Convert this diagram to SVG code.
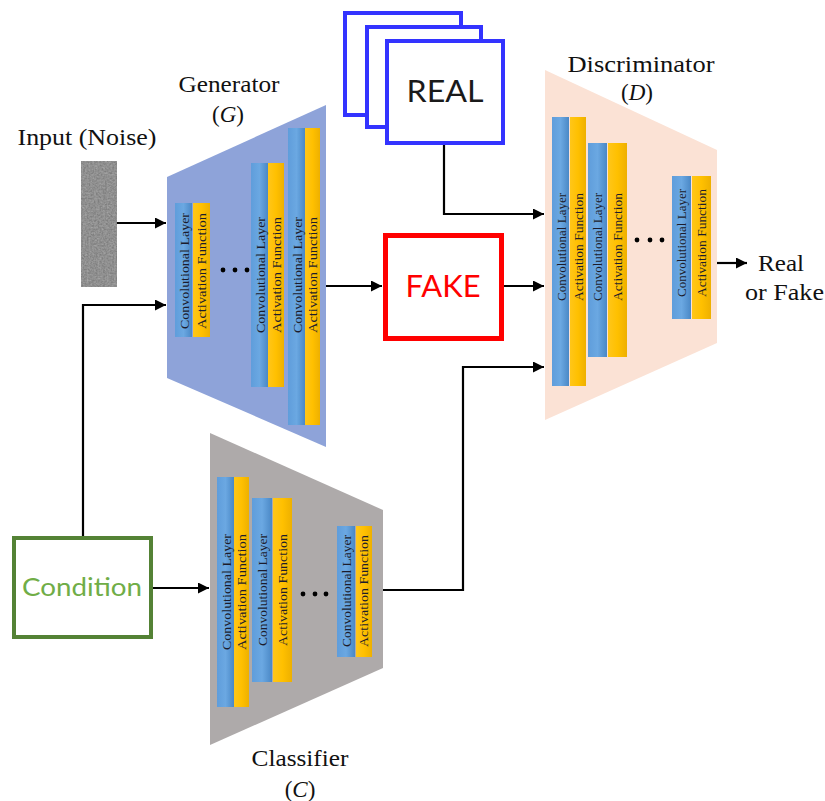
<svg xmlns="http://www.w3.org/2000/svg" width="825" height="801" viewBox="0 0 825 801">
  <style>
    .lbl { font-family: "Liberation Serif", "Times New Roman", serif; font-size: 23px; fill: #111; }
    .it { font-style: italic; }
    .bt { font-family: "Liberation Serif", "Times New Roman", serif; font-size: 13px; fill: #1c1c2c; text-anchor: middle; }
    .blue { fill: url(#gBlue); }
    .yel { fill: url(#gYel); }
    .conn { fill: none; stroke: #000; stroke-width: 2.2; }
    .dot { fill: #000; }
    .sans { font-family: Lato, "Liberation Sans", Arial, sans-serif; text-anchor: middle; }
  </style>
  <defs>
    <linearGradient id="gBlue" x1="0" y1="0" x2="1" y2="0">
      <stop offset="0" stop-color="#5f9ddb"/>
      <stop offset="0.5" stop-color="#6ba8e2"/>
      <stop offset="1" stop-color="#4a88c6"/>
    </linearGradient>
    <linearGradient id="gYel" x1="0" y1="0" x2="1" y2="0">
      <stop offset="0" stop-color="#ffc61a"/>
      <stop offset="0.5" stop-color="#ffc000"/>
      <stop offset="1" stop-color="#eeb000"/>
    </linearGradient>
    <filter id="grain" x="0" y="0" width="1" height="1">
      <feTurbulence type="fractalNoise" baseFrequency="0.55" numOctaves="2" seed="3" result="n"/>
      <feColorMatrix in="n" type="matrix" values="0 0 0 0 0.5  0 0 0 0 0.5  0 0 0 0 0.5  0.6 0.6 0 0 -0.35" result="m"/>
      <feComposite in="m" in2="SourceGraphic" operator="in" result="c"/>
      <feMerge><feMergeNode in="SourceGraphic"/><feMergeNode in="c"/></feMerge>
    </filter>
    <marker id="ah" viewBox="0 0 10 10" refX="10" refY="5" markerWidth="5" markerHeight="5" orient="auto" markerUnits="strokeWidth">
      <path d="M0,0 L10,5 L0,10 z" fill="#000"/>
    </marker>
  </defs>

  <rect width="825" height="801" fill="#fff"/>

  <!-- Input noise -->
  <g id="noise">
    <text class="lbl" x="87" y="145" text-anchor="middle" textLength="139" lengthAdjust="spacingAndGlyphs">Input (Noise)</text>
    <rect x="81" y="161" width="36" height="126" fill="#7d7d7d" filter="url(#grain)"/>
  </g>

  <!-- Generator -->
  <g id="generator">
    <polygon points="167,177 326,105 326,447 167,378" fill="#8ea3d9"/>
    <text class="lbl" x="229" y="92" text-anchor="middle" textLength="101" lengthAdjust="spacingAndGlyphs">Generator</text>
    <text class="lbl" x="228" y="122" text-anchor="middle">(<tspan class="it">G</tspan>)</text>
    <rect class="blue" x="175" y="203" width="17" height="134"/>
    <rect class="yel" x="193" y="203" width="17" height="134"/>
    <text class="bt" transform="translate(188.5,271) rotate(-90)" textLength="116" lengthAdjust="spacingAndGlyphs">Convolutional Layer</text>
    <text class="bt" transform="translate(206,271) rotate(-90)" textLength="116" lengthAdjust="spacingAndGlyphs">Activation Function</text>
    <circle class="dot" cx="223" cy="270" r="2.4"/>
    <circle class="dot" cx="235" cy="270" r="2.4"/>
    <circle class="dot" cx="247" cy="270" r="2.4"/>
    <rect class="blue" x="251" y="163" width="17" height="224"/>
    <rect class="yel" x="268" y="163" width="16" height="224"/>
    <text class="bt" transform="translate(264.5,275) rotate(-90)" textLength="116" lengthAdjust="spacingAndGlyphs">Convolutional Layer</text>
    <text class="bt" transform="translate(280.5,275) rotate(-90)" textLength="116" lengthAdjust="spacingAndGlyphs">Activation Function</text>
    <rect class="blue" x="288" y="128" width="17" height="297"/>
    <rect class="yel" x="305" y="128" width="15" height="297"/>
    <text class="bt" transform="translate(301.5,275) rotate(-90)" textLength="116" lengthAdjust="spacingAndGlyphs">Convolutional Layer</text>
    <text class="bt" transform="translate(317,275) rotate(-90)" textLength="116" lengthAdjust="spacingAndGlyphs">Activation Function</text>
  </g>

  <!-- Real samples -->
  <g id="real">
    <rect x="345" y="13" width="116" height="102" fill="#fff" stroke="#3333ff" stroke-width="4"/>
    <rect x="367" y="27" width="114" height="100" fill="#fff" stroke="#3333ff" stroke-width="4"/>
    <rect x="387" y="41" width="116" height="102" fill="#fff" stroke="#3333ff" stroke-width="4"/>
    <text class="sans" x="445" y="102" font-size="31" fill="#1a1a1a" textLength="77" lengthAdjust="spacingAndGlyphs">REAL</text>
  </g>

  <!-- Fake sample -->
  <g id="fake">
    <rect x="385.5" y="235.5" width="116" height="103" fill="#fff" stroke="#ff0000" stroke-width="5"/>
    <text class="sans" x="443" y="297" font-size="31" fill="#ff0000" textLength="75" lengthAdjust="spacingAndGlyphs">FAKE</text>
  </g>

  <!-- Discriminator -->
  <g id="discriminator">
    <polygon points="545,70 717,150 717,343 545,420" fill="#fbe2d5"/>
    <text class="lbl" x="641" y="72" text-anchor="middle" textLength="147" lengthAdjust="spacingAndGlyphs">Discriminator</text>
    <text class="lbl" x="637" y="100" text-anchor="middle">(<tspan class="it">D</tspan>)</text>
    <rect class="blue" x="552" y="117" width="17" height="269"/>
    <rect class="yel" x="570" y="117" width="16" height="269"/>
    <text class="bt" transform="translate(565.5,247) rotate(-90)" textLength="108" lengthAdjust="spacingAndGlyphs">Convolutional Layer</text>
    <text class="bt" transform="translate(582.5,247) rotate(-90)" textLength="108" lengthAdjust="spacingAndGlyphs">Activation Function</text>
    <rect class="blue" x="588" y="143" width="19" height="214"/>
    <rect class="yel" x="608" y="143" width="19" height="214"/>
    <text class="bt" transform="translate(602,247) rotate(-90)" textLength="108" lengthAdjust="spacingAndGlyphs">Convolutional Layer</text>
    <text class="bt" transform="translate(622,247) rotate(-90)" textLength="108" lengthAdjust="spacingAndGlyphs">Activation Function</text>
    <circle class="dot" cx="637" cy="240" r="2.4"/>
    <circle class="dot" cx="650" cy="240" r="2.4"/>
    <circle class="dot" cx="662" cy="240" r="2.4"/>
    <rect class="blue" x="672" y="176" width="19" height="143"/>
    <rect class="yel" x="692" y="176" width="19" height="143"/>
    <text class="bt" transform="translate(686,243) rotate(-90)" textLength="108" lengthAdjust="spacingAndGlyphs">Convolutional Layer</text>
    <text class="bt" transform="translate(706,243) rotate(-90)" textLength="108" lengthAdjust="spacingAndGlyphs">Activation Function</text>
    <text class="lbl" x="758" y="271" textLength="46" lengthAdjust="spacingAndGlyphs">Real</text>
    <text class="lbl" x="745" y="300" textLength="79" lengthAdjust="spacingAndGlyphs">or Fake</text>
  </g>

  <!-- Classifier -->
  <g id="classifier">
    <polygon points="210,433 383,510 383,668 210,745" fill="#aeaaaa"/>
    <text class="lbl" x="300" y="766" text-anchor="middle" textLength="97" lengthAdjust="spacingAndGlyphs">Classifier</text>
    <text class="lbl" x="300" y="797" text-anchor="middle">(<tspan class="it">C</tspan>)</text>
    <rect class="blue" x="217" y="477" width="17" height="230"/>
    <rect class="yel" x="234" y="477" width="15" height="230"/>
    <text class="bt" transform="translate(230.5,592) rotate(-90)" textLength="116" lengthAdjust="spacingAndGlyphs">Convolutional Layer</text>
    <text class="bt" transform="translate(246,592) rotate(-90)" textLength="116" lengthAdjust="spacingAndGlyphs">Activation Function</text>
    <rect class="blue" x="252" y="498" width="20" height="184"/>
    <rect class="yel" x="273" y="498" width="19" height="184"/>
    <text class="bt" transform="translate(266.5,590) rotate(-90)" textLength="112" lengthAdjust="spacingAndGlyphs">Convolutional Layer</text>
    <text class="bt" transform="translate(287,590) rotate(-90)" textLength="112" lengthAdjust="spacingAndGlyphs">Activation Function</text>
    <circle class="dot" cx="303" cy="594" r="2.4"/>
    <circle class="dot" cx="315" cy="594" r="2.4"/>
    <circle class="dot" cx="326" cy="594" r="2.4"/>
    <rect class="blue" x="337" y="526" width="18" height="131"/>
    <rect class="yel" x="356" y="526" width="16" height="131"/>
    <text class="bt" transform="translate(350.5,591) rotate(-90)" textLength="112" lengthAdjust="spacingAndGlyphs">Convolutional Layer</text>
    <text class="bt" transform="translate(368,591) rotate(-90)" textLength="112" lengthAdjust="spacingAndGlyphs">Activation Function</text>
  </g>

  <!-- Condition -->
  <g id="condition">
    <rect x="14" y="538" width="137" height="99" fill="#fff" stroke="#548235" stroke-width="4"/>
    <text class="sans" x="82" y="596" font-size="25" fill="#70ad47" textLength="120" lengthAdjust="spacingAndGlyphs">Condition</text>
  </g>

  <!-- Connectors -->
  <g id="connectors">
    <path class="conn" d="M117,223 H166" marker-end="url(#ah)"/>
    <path class="conn" d="M83,536 V305 H166" marker-end="url(#ah)"/>
    <path class="conn" d="M153,588 H209" marker-end="url(#ah)"/>
    <path class="conn" d="M326,286 H382" marker-end="url(#ah)"/>
    <path class="conn" d="M444,145 V214 H544" marker-end="url(#ah)"/>
    <path class="conn" d="M504,286 H544" marker-end="url(#ah)"/>
    <path class="conn" d="M383,590 H463 V367 H544" marker-end="url(#ah)"/>
    <path class="conn" d="M717,263 H747" marker-end="url(#ah)"/>
  </g>
</svg>
